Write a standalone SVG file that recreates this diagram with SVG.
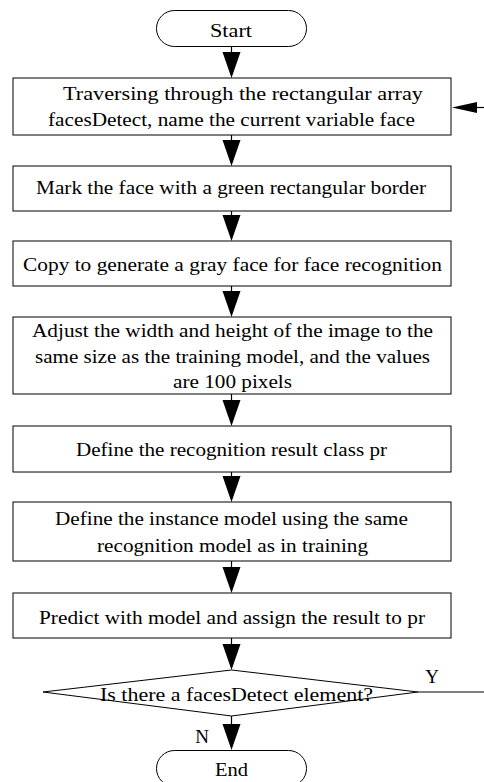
<svg xmlns="http://www.w3.org/2000/svg" width="484" height="782" viewBox="0 0 484 782">
  <style>
    .shape { fill: #ffffff; stroke: #000000; stroke-width: 1; }
    .label { font-family: 'Liberation Serif', 'Times New Roman', serif; font-size: 19px; fill: #000000; text-anchor: middle; }
    .edge { fill: none; stroke: #000000; stroke-width: 1.2; }
    .head { fill: #000000; stroke: none; }
  </style>
  <rect width="484" height="782" fill="#ffffff"/>

  <!-- connectors -->
  <g id="connectors">
    <line class="edge" x1="231.5" y1="47" x2="231.5" y2="60"/>
    <path class="head" d="M222.5,52 L240.5,52 L231.5,78 Z"/>
    <line class="edge" x1="231.5" y1="135" x2="231.5" y2="145"/>
    <path class="head" d="M222.5,140 L240.5,140 L231.5,166 Z"/>
    <line class="edge" x1="231.5" y1="211" x2="231.5" y2="220"/>
    <path class="head" d="M222.5,215 L240.5,215 L231.5,241 Z"/>
    <line class="edge" x1="231.5" y1="286" x2="231.5" y2="296"/>
    <path class="head" d="M222.5,291 L240.5,291 L231.5,317 Z"/>
    <line class="edge" x1="231.5" y1="394" x2="231.5" y2="405"/>
    <path class="head" d="M222.5,400 L240.5,400 L231.5,426 Z"/>
    <line class="edge" x1="231.5" y1="472" x2="231.5" y2="481"/>
    <path class="head" d="M222.5,476 L240.5,476 L231.5,502 Z"/>
    <line class="edge" x1="231.5" y1="561" x2="231.5" y2="572"/>
    <path class="head" d="M222.5,567 L240.5,567 L231.5,593 Z"/>
    <line class="edge" x1="231.5" y1="638" x2="231.5" y2="650"/>
    <path class="head" d="M222.5,644 L240.5,644 L231.5,670 Z"/>
    <line class="edge" x1="231.5" y1="716" x2="231.5" y2="730"/>
    <path class="head" d="M222.5,724 L240.5,724 L231.5,750 Z"/>
    <!-- Y branch loops back into the traversal step -->
    <line class="edge" x1="418" y1="692" x2="484" y2="692"/>
    <line class="edge" x1="470" y1="107.5" x2="484" y2="107.5"/>
    <path class="head" d="M477,102 L477,113 L452,107.5 Z"/>
    <text class="label" x="432" y="683">Y</text>
    <text class="label" x="202" y="743">N</text>
  </g>

  <g id="start">
    <rect class="shape" x="156.5" y="10.5" width="150" height="36" rx="18" ry="18"/>
    <text class="label" x="231" y="37" textLength="42" lengthAdjust="spacingAndGlyphs">Start</text>
  </g>

  <g id="traverse">
    <rect class="shape" x="13" y="78" width="438" height="57"/>
    <text class="label" x="243" y="100" textLength="360" lengthAdjust="spacingAndGlyphs">Traversing through the rectangular array</text>
    <text class="label" x="231.5" y="126" textLength="367" lengthAdjust="spacingAndGlyphs">facesDetect, name the current variable face</text>
  </g>

  <g id="mark">
    <rect class="shape" x="13" y="166" width="438" height="45"/>
    <text class="label" x="231" y="194" textLength="390" lengthAdjust="spacingAndGlyphs">Mark the face with a green rectangular border</text>
  </g>

  <g id="gray">
    <rect class="shape" x="13" y="241" width="438" height="45"/>
    <text class="label" x="232.5" y="271" textLength="419" lengthAdjust="spacingAndGlyphs">Copy to generate a gray face for face recognition</text>
  </g>

  <g id="resize">
    <rect class="shape" x="13" y="317" width="438" height="77"/>
    <text class="label" x="232.5" y="337" textLength="401" lengthAdjust="spacingAndGlyphs">Adjust the width and height of the image to the</text>
    <text class="label" x="232.5" y="363" textLength="395" lengthAdjust="spacingAndGlyphs">same size as the training model, and the values</text>
    <text class="label" x="232.5" y="388" textLength="119" lengthAdjust="spacingAndGlyphs">are 100 pixels</text>
  </g>

  <g id="result">
    <rect class="shape" x="13" y="426" width="438" height="46"/>
    <text class="label" x="231.5" y="456" textLength="311" lengthAdjust="spacingAndGlyphs">Define the recognition result class pr</text>
  </g>

  <g id="model">
    <rect class="shape" x="13" y="502" width="438" height="59"/>
    <text class="label" x="231.5" y="525" textLength="353" lengthAdjust="spacingAndGlyphs">Define the instance model using the same</text>
    <text class="label" x="232.5" y="552" textLength="271" lengthAdjust="spacingAndGlyphs">recognition model as in training</text>
  </g>

  <g id="predict">
    <rect class="shape" x="13" y="593" width="438" height="45"/>
    <text class="label" x="232" y="624" textLength="386" lengthAdjust="spacingAndGlyphs">Predict with model and assign the result to pr</text>
  </g>

  <g id="decision">
    <polygon class="shape" points="231.5,670 418,692 231.5,716 43,692"/>
    <text class="label" x="236.5" y="701" textLength="273" lengthAdjust="spacingAndGlyphs">Is there a facesDetect element?</text>
  </g>

  <g id="end">
    <rect class="shape" x="156.5" y="750.5" width="150" height="36" rx="18" ry="18"/>
    <text class="label" x="231.5" y="776" textLength="33" lengthAdjust="spacingAndGlyphs">End</text>
  </g>
</svg>
